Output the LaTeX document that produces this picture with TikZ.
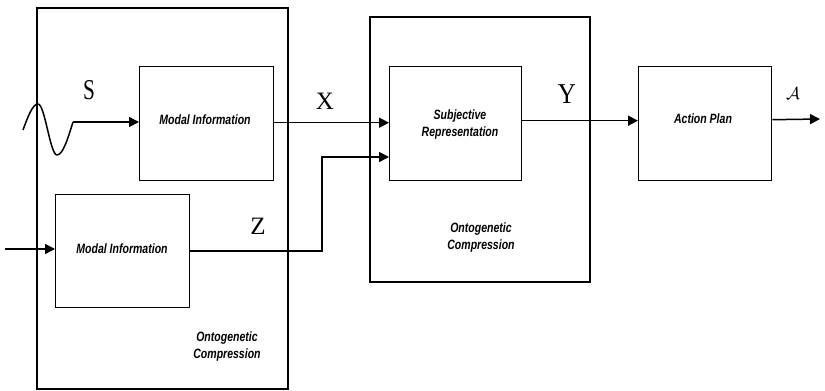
\documentclass[tikz,border=0pt]{standalone}
\usepackage{fontspec}
\setmainfont{Liberation Serif}
\newfontfamily\boxfont[FakeStretch=0.78]{Liberation Sans}
\usetikzlibrary{arrows.meta}
\begin{document}
\begin{tikzpicture}[x=1pt,y=-1pt,
  box/.style={draw,line width=1.4pt,minimum width=0pt},
  lbl/.style={font=\boxfont\bfseries\itshape\fontsize{13.5}{17}\selectfont,align=center,inner sep=0pt},
  sym/.style={font=\fontsize{25}{26}\selectfont,inner sep=0pt},
  conn/.style={line width=1.5pt,-{Triangle[length=10pt,width=10pt]}},
  plain/.style={line width=1.5pt}]
\useasboundingbox (0,0) rectangle (825,391);
% outer boxes
\draw[box] (37,8) rectangle (288,389);
\draw[box] (370,17) rectangle (590,282);
% inner boxes
\node[box,minimum width=134pt,minimum height=114pt,anchor=north west] (m1) at (139,66) {};
\node[box,minimum width=134pt,minimum height=113pt,anchor=north west] (m2) at (55,194) {};
\node[box,minimum width=132pt,minimum height=114pt,anchor=north west] (sr) at (389,66) {};
\node[box,minimum width=133pt,minimum height=114pt,anchor=north west] (ap) at (638,66) {};
% texts
\node[lbl] (t1) at (205,120) {Modal Information};
\node[lbl] (t2) at (122,249) {Modal Information};
\node[lbl] (t3) at (460,125) {Subjective\\Representation};
\node[lbl] (t4) at (703,119) {Action Plan};
\node[lbl] (t5) at (227,347) {Ontogenetic\\Compression};
\node[lbl] (t6) at (481,238) {Ontogenetic\\Compression};
% symbols
\node[sym] (s) at (89,90) {\scalebox{0.85}[1.15]{S}};
\node[sym] (x) at (325,101) {X};
\node[sym] (y) at (567,94) {\scalebox{1}[1.15]{Y}};
\node[sym] (z) at (258,226) {Z};
\node[inner sep=0pt,font=\fontsize{16}{18}\selectfont] (a) at (793,94) {$\mathcal{A}$};
% wave and connectors
\coordinate (w0) at (23,130);
\coordinate (w1) at (73,122);
\draw[plain,line join=round] (w0) sin (38,104) cos (47.5,129.5) sin (57,155) cos (w1);
\draw[conn] (w1) -- (w1 -| m1.west);
\coordinate (in2) at (5,249);
\draw[conn] (in2) -- (in2 -| m2.west);
\draw[conn] ([yshift=1pt]m1.east) -- ([yshift=1pt]m1.east -| sr.west);
\coordinate (zc) at (322,157);
\draw[conn] (m2.east) -| (zc) -- (zc -| sr.west);
\draw[conn] ([yshift=3pt]sr.east) -- ([yshift=3pt]sr.east -| ap.west);
\coordinate (out) at (820,119);
\draw[conn] ([yshift=4pt]ap.east) -- (out);
\end{tikzpicture}
\end{document}
